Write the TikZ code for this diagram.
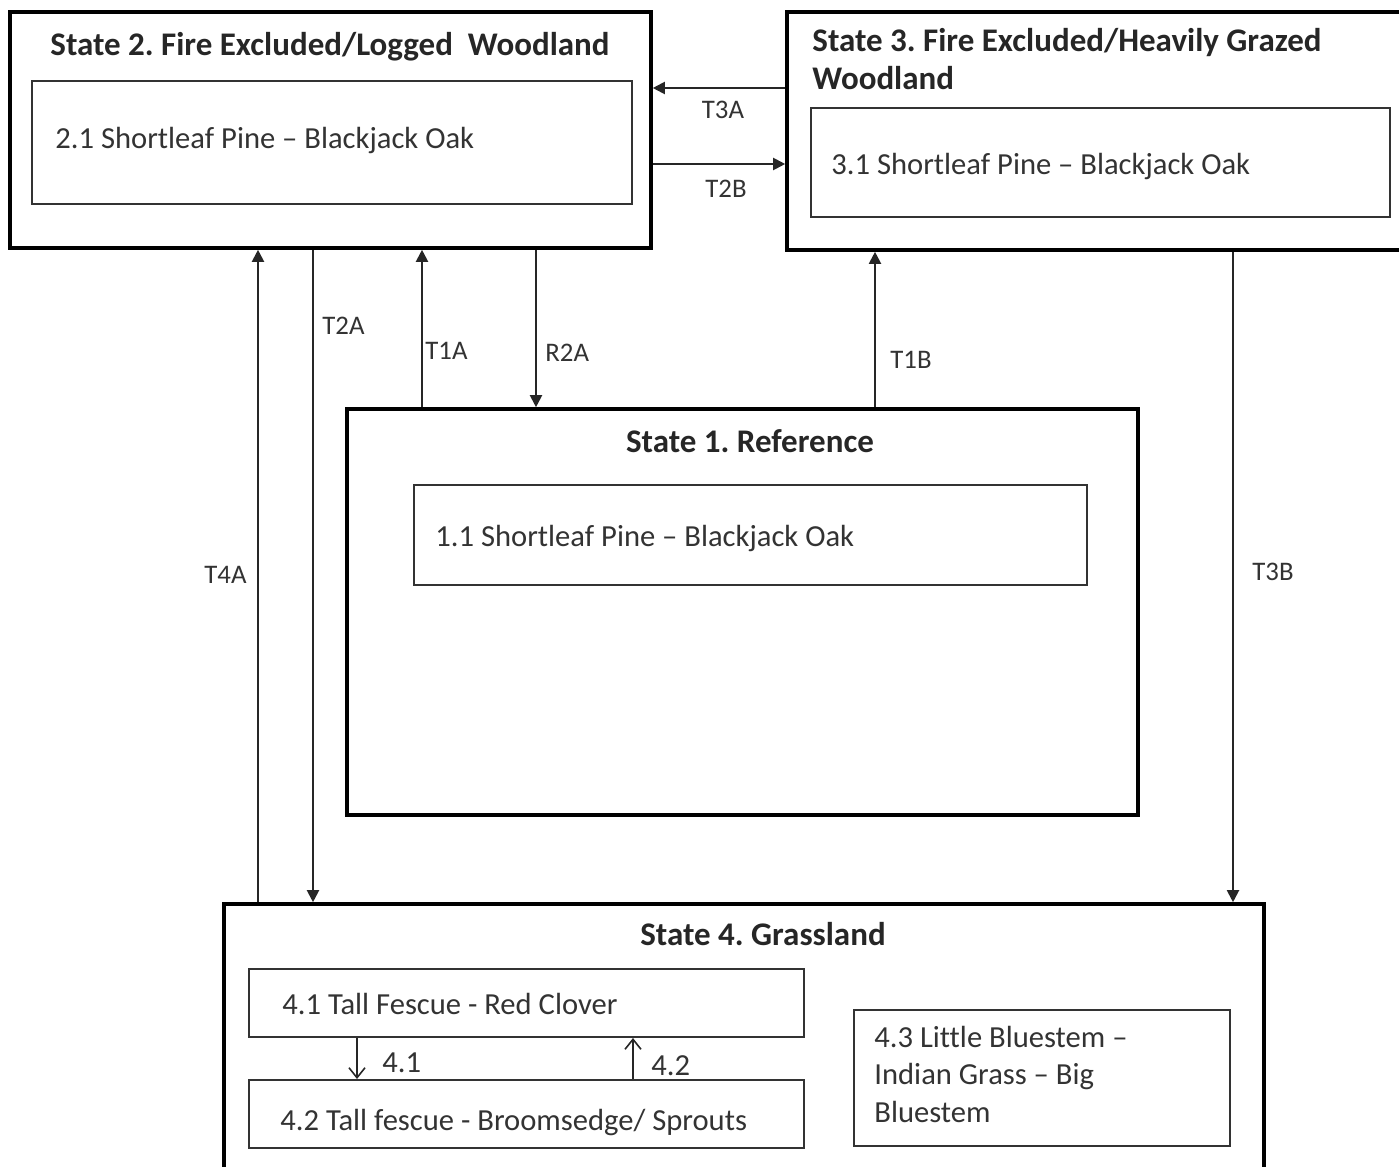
\documentclass[tikz,border=0pt]{standalone}
\usepackage{fontspec}
\setmainfont{Carlito}[Ligatures=NoCommon]
\frenchspacing
\usetikzlibrary{arrows.meta,fit}
\begin{document}
\begin{tikzpicture}[x=0.5pt,y=-0.5pt,
  outerbox/.style={draw=black,line width=1.8pt,inner sep=0pt},
  innerbox/.style={draw=black!80,line width=1pt,inner sep=0pt},
  title/.style={font=\bfseries\fontsize{16.5}{20}\selectfont,text=black!85,inner sep=0pt},
  body/.style={font=\fontsize{15.3}{18.75}\selectfont,text=black!80,inner sep=0pt},
  lbl/.style={font=\fontsize{13.4}{16}\selectfont,text=black!80,inner sep=0pt},
  conn/.style={draw=black!85,line width=1pt,-{Triangle[length=6pt,width=6pt]}},
  sub/.style={draw=black!85,line width=0.8pt,-{Straight Barb[length=5pt,width=8pt]}}]
\useasboundingbox (0,0) rectangle (1399,1167);
% boxes
\node[outerbox,fit={(10,12) (651,248)}] (s2) {};
\node[innerbox,fit={(32,81) (632,204)}] (b21) {};
\node[outerbox,fit={(787,12) (1410,250)}] (s3) {};
\node[innerbox,fit={(811,108) (1390,217)}] (b31) {};
\node[outerbox,fit={(347,409) (1138,815)}] (s1) {};
\node[innerbox,fit={(414,485) (1087,585)}] (b11) {};
\node[outerbox,fit={(224,904) (1264,1180)}] (s4) {};
\node[innerbox,fit={(249,969) (804,1037)}] (b41) {};
\node[innerbox,fit={(249,1080) (804,1148)}] (b42) {};
\node[innerbox,fit={(854,1010) (1230,1146)}] (b43) {};
% texts
\node[title,anchor=base west] (t2) at (50,55) {State 2. Fire Excluded/Logged\ \ Woodland};
\node[title,anchor=base west,align=left,font=\bfseries\fontsize{16.5}{19.5}\selectfont] (t3) at (812,90) {State 3. Fire Excluded/Heavily Grazed\\Woodland};
\node[title,anchor=base] (t1) at (750,452) {State 1. Reference};
\node[title,anchor=base] (t4) at (763,945) {State 4. Grassland};
\node[body,anchor=base west] (x21) at (55,148) {2.1 Shortleaf Pine – Blackjack Oak};
\node[body,anchor=base west] (x31) at (831,174) {3.1 Shortleaf Pine – Blackjack Oak};
\node[body,anchor=base west] (x11) at (435,546) {1.1 Shortleaf Pine – Blackjack Oak};
\node[body,anchor=base west] (x41) at (282,1014) {4.1 Tall Fescue - Red Clover};
\node[body,anchor=base west] (x42) at (280,1130) {4.2 Tall fescue - Broomsedge/ Sprouts};
\node[body,anchor=base west,align=left] (x43) at (874,1122) {4.3 Little Bluestem –\\Indian Grass – Big\\Bluestem};
% connector positions
\coordinate (yT3A) at (0,88);
\coordinate (yT2B) at (0,164);
\coordinate (xT4A) at (258,0);
\coordinate (xT2A) at (313,0);
\coordinate (xT1A) at (422,0);
\coordinate (xR2A) at (536,0);
\coordinate (xT1B) at (875,0);
\coordinate (xT3B) at (1233,0);
\coordinate (x41) at (357,0);
\coordinate (x42) at (633,0);
% connectors
\draw[conn] (s3.west |- yT3A) -- (s2.east |- yT3A);
\draw[conn] (s2.east |- yT2B) -- (s3.west |- yT2B);
\draw[conn] (xT4A |- s4.north) -- (xT4A |- s2.south);
\draw[conn] (xT2A |- s2.south) -- (xT2A |- s4.north);
\draw[conn] (xT1A |- s1.north) -- (xT1A |- s2.south);
\draw[conn] (xR2A |- s2.south) -- (xR2A |- s1.north);
\draw[conn] (xT1B |- s1.north) -- (xT1B |- s3.south);
\draw[conn] (xT3B |- s3.south) -- (xT3B |- s4.north);
\draw[sub] (x41 |- b41.south) -- (x41 |- b42.north);
\draw[sub] (x42 |- b42.north) -- (x42 |- b41.south);
% labels
\node[lbl,anchor=base] (lT3A) at (723,118) {T3A};
\node[lbl,anchor=base] (lT2B) at (726,197) {T2B};
\node[lbl,anchor=base west] (lT2A) at (322,334) {T2A};
\node[lbl,anchor=base west] (lT1A) at (425,359) {T1A};
\node[lbl,anchor=base west] (lR2A) at (545,361) {R2A};
\node[lbl,anchor=base west] (lT1B) at (890,368) {T1B};
\node[lbl,anchor=base west] (lT4A) at (204,583) {T4A};
\node[lbl,anchor=base west] (lT3B) at (1252,580) {T3B};
\node[body,anchor=base west] (l41) at (382,1072) {4.1};
\node[body,anchor=base west] (l42) at (651,1075) {4.2};
\end{tikzpicture}
\end{document}
